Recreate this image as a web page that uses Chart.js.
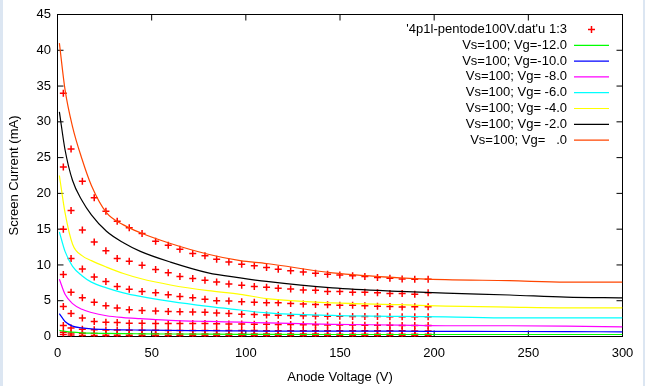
<!DOCTYPE html>
<html>
<head>
<meta charset="utf-8">
<title>Screen current vs anode voltage</title>
<script src="https://cdn.jsdelivr.net/npm/chart.js@4.4.1/dist/chart.umd.min.js"></script>
<style>
  html, body { margin: 0; padding: 0; background: #dce6f2; overflow: hidden; }
  #wrap { position: absolute; left: 3px; top: 0; width: 640px; height: 386px; background: #fff; }
</style>
</head>
<body>
<div id="wrap"><canvas id="chart" width="640" height="386"></canvas></div>
<script>
// Measured points ('4p1l-pentode100V.dat' u 1:3): anode voltage columns
const measVa = [3.1, 7.2, 13.2, 19.5, 25.7, 31.7, 38.1, 44.9, 52.1, 58.8, 65.0, 71.8, 78.3, 84.5, 91.0,
  97.8, 104.5, 111.0, 117.2, 123.8, 130.5, 137.0, 143.4, 149.9, 156.7, 163.2, 169.9, 176.5, 183.0, 189.7, 196.8];

// screen current (mA) per grid voltage, one value per column above
const measVg0 = [34.0, 26.2, 21.7, 19.4, 17.5, 16.1, 15.2, 14.4, 13.3, 12.75, 12.2, 11.6, 11.3, 10.8, 10.4,
  10.1, 9.9, 9.65, 9.4, 9.2, 9.0, 8.85, 8.7, 8.6, 8.5, 8.4, 8.25, 8.15, 8.05, 8.0, 8.0];
const measVg2 = [23.7, 17.6, 14.9, 13.2, 12.0, 10.9, 10.5, 9.95, 9.35, 8.9, 8.4, 8.1, 7.85, 7.6, 7.35,
  7.16, 7.0, 6.9, 6.75, 6.65, 6.5, 6.45, 6.3, 6.3, 6.2, 6.2, 6.1, 6.0, 6.0, 5.9, 6.1];
const measVg4 = [15.0, 10.9, 9.45, 8.3, 7.7, 7.0, 6.6, 6.3, 6.1, 5.85, 5.6, 5.4, 5.2, 5.0, 4.95,
  4.85, 4.8, 4.7, 4.7, 4.6, 4.55, 4.47, 4.45, 4.37, 4.35, 4.3, 4.23, 4.2, 4.14, 4.15, 4.15];
const measVg6 = [8.65, 6.2, 5.4, 4.8, 4.3, 4.0, 3.75, 3.65, 3.55, 3.5, 3.45, 3.42, 3.4, 3.3, 3.2,
  3.1, 3.07, 3.0, 2.98, 2.95, 2.9, 2.87, 2.84, 2.82, 2.8, 2.8, 2.78, 2.77, 2.76, 2.75, 2.75];
const measVg8 = [4.2, 3.2, 2.6, 2.1, 2.0, 1.95, 1.85, 1.85, 1.8, 1.8, 1.8, 1.8, 1.8, 1.78, 1.76,
  1.74, 1.72, 1.7, 1.68, 1.66, 1.65, 1.63, 1.62, 1.6, 1.6, 1.58, 1.57, 1.56, 1.55, 1.55, 1.55];
const measVg10 = [1.55, 1.2, 1.0, 0.95, 0.9, 0.9, 0.88, 0.87, 0.86, 0.85, 0.85, 0.85, 0.85, 0.84, 0.84,
  0.83, 0.83, 0.82, 0.82, 0.82, 0.81, 0.81, 0.8, 0.8, 0.8, 0.8, 0.79, 0.79, 0.79, 0.78, 0.78];
const measVg12 = [0.6, 0.5, 0.45, 0.42, 0.4, 0.4, 0.38, 0.38, 0.37, 0.37, 0.36, 0.36, 0.36, 0.35, 0.35,
  0.35, 0.35, 0.34, 0.34, 0.34, 0.34, 0.34, 0.33, 0.33, 0.33, 0.33, 0.33, 0.32, 0.32, 0.32, 0.32];
const measLow = [0.28, 0.2, 0.15, 0.12, 0.1, 0.1, 0.1, 0.1, 0.1, 0.1, 0.1, 0.1, 0.1, 0.1, 0.1,
  0.1, 0.1, 0.1, 0.1, 0.1, 0.1, 0.1, 0.1, 0.1, 0.1, 0.1, 0.1, 0.1, 0.1, 0.1, 0.1];

// Model curves, read at these anode voltages
const curveVa = [1, 4, 8, 13, 18, 26, 35, 44, 60, 80, 97, 111, 146, 182, 206, 240, 270, 300];
const curveVg12 = [0.85, 0.72, 0.6, 0.52, 0.47, 0.43, 0.4, 0.38, 0.35, 0.32, 0.3, 0.29, 0.28, 0.28, 0.28, 0.28, 0.28, 0.28];
const curveVg10 = [3.2, 2.1, 1.45, 1.2, 1.07, 0.98, 0.93, 0.9, 0.85, 0.82, 0.78, 0.76, 0.75, 0.74, 0.72, 0.7, 0.68, 0.65];
const curveVg8 = [8.0, 5.9, 4.6, 3.8, 3.35, 2.9, 2.65, 2.5, 2.25, 2.1, 2.0, 1.9, 1.7, 1.6, 1.5, 1.5, 1.45, 1.35];
const curveVg6 = [14.6, 11.9, 9.8, 8.5, 7.6, 6.8, 6.1, 5.6, 4.9, 4.2, 3.7, 3.3, 2.95, 2.8, 2.75, 2.6, 2.6, 2.6];
const curveVg4 = [22.5, 17.3, 12.9, 11.3, 10.6, 9.7, 8.8, 8.1, 7.2, 6.4, 5.9, 5.3, 4.7, 4.45, 4.25, 4.1, 4.0, 4.0];
const curveVg2 = [31.4, 26.1, 21.8, 19.0, 17.0, 14.7, 13.1, 11.9, 10.4, 8.9, 8.2, 7.7, 6.8, 6.3, 6.05, 5.8, 5.5, 5.4];
const curveVg0 = [41.0, 34.5, 29.3, 24.8, 21.1, 17.3, 15.6, 14.5, 13.0, 11.5, 10.6, 10.2, 8.9, 8.2, 7.95, 7.8, 7.6, 7.6];

const curveLabels = ['Vs=100; Vg=-12.0', 'Vs=100; Vg=-10.0', 'Vs=100; Vg= -8.0', 'Vs=100; Vg= -6.0',
  'Vs=100; Vg= -4.0', 'Vs=100; Vg= -2.0', 'Vs=100; Vg=   .0'];
const curveColors = ['#00ff00', '#0000ff', '#ff00ff', '#00ffff', '#ffff00', '#000000', '#ff4500'];

const xTicks = [0, 50, 100, 150, 200, 250, 300];
const yTicks = [0, 5, 10, 15, 20, 25, 30, 35, 40, 45];

const FONT = { family: '"Liberation Sans", Arial, sans-serif', size: 13 };
const TICK = 6;

// build the datasets
const measRows = [measVg0, measVg2, measVg4, measVg6, measVg8, measVg10, measVg12, measLow];
const measPoints = [];
measRows.forEach(row => row.forEach((v, i) => measPoints.push({ x: measVa[i], y: v })));

const curves = [curveVg12, curveVg10, curveVg8, curveVg6, curveVg4, curveVg2, curveVg0];

const datasets = [{
  label: "'4p1l-pentode100V.dat'u 1:3",
  data: measPoints,
  showLine: false,
  pointStyle: 'cross',
  pointRadius: 3.5,
  pointBorderWidth: 1.5,
  borderColor: '#ff0000',
  backgroundColor: '#ff0000',
  order: 1
}];
curves.forEach((c, i) => {
  datasets.push({
    label: curveLabels[i],
    data: c.map((v, k) => ({ x: curveVa[k], y: v })),
    showLine: true,
    pointRadius: 0,
    borderWidth: 1.2,
    borderColor: curveColors[i],
    backgroundColor: curveColors[i],
    cubicInterpolationMode: 'monotone',
    order: -i - 1
  });
});

// gnuplot style frame with inward ticks on all four sides
const framePlugin = {
  id: 'frame',
  beforeDatasetsDraw(chart) {
    const { ctx, chartArea: a, scales: { x, y } } = chart;
    ctx.save();
    ctx.strokeStyle = '#000';
    ctx.lineWidth = 1;
    ctx.beginPath();
    xTicks.forEach(v => {
      const px = x.getPixelForValue(v);
      ctx.moveTo(px, a.bottom); ctx.lineTo(px, a.bottom - TICK);
      ctx.moveTo(px, a.top); ctx.lineTo(px, a.top + TICK);
    });
    yTicks.forEach(v => {
      const py = y.getPixelForValue(v);
      ctx.moveTo(a.left, py); ctx.lineTo(a.left + TICK, py);
      ctx.moveTo(a.right, py); ctx.lineTo(a.right - TICK, py);
    });
    ctx.stroke();
    ctx.strokeRect(a.left, a.top, a.right - a.left, a.bottom - a.top);
    ctx.restore();
  }
};

// key in the top right corner: text right aligned, sample to its right
const keyPlugin = {
  id: 'key',
  afterDraw(chart) {
    const ctx = chart.ctx;
    const textRight = 564, lineX1 = 571, lineX2 = 606, top = 29.5, step = 15.8;
    ctx.save();
    ctx.font = FONT.size + 'px ' + FONT.family;
    ctx.textAlign = 'right';
    ctx.textBaseline = 'middle';
    chart.data.datasets.forEach((ds, i) => {
      const yy = top + i * step;
      ctx.fillStyle = '#000';
      ctx.fillText(ds.label, textRight, yy);
      ctx.strokeStyle = ds.borderColor;
      ctx.beginPath();
      if (ds.showLine === false) {
        const cx = (lineX1 + lineX2) / 2;
        ctx.lineWidth = 1.5;
        ctx.moveTo(cx - 3.5, yy); ctx.lineTo(cx + 3.5, yy);
        ctx.moveTo(cx, yy - 3.5); ctx.lineTo(cx, yy + 3.5);
      } else {
        ctx.lineWidth = 1.2;
        ctx.moveTo(lineX1, yy); ctx.lineTo(lineX2, yy);
      }
      ctx.stroke();
    });
    ctx.restore();
  }
};

new Chart(document.getElementById('chart'), {
  type: 'scatter',
  data: { datasets },
  options: {
    responsive: false,
    animation: false,
    devicePixelRatio: 1,
    events: [],
    layout: { padding: { top: 14.5, right: 20.5, bottom: 0, left: 0 } },
    plugins: { legend: { display: false }, tooltip: { enabled: false } },
    scales: {
      x: {
        type: 'linear', min: 0, max: 300,
        afterFit: s => { s.height = 49.5; },
        afterBuildTicks: s => { s.ticks = xTicks.map(v => ({ value: v })); },
        grid: { display: false, drawTicks: false },
        border: { display: false },
        ticks: { color: '#000', font: FONT, padding: 9, maxRotation: 0 },
        title: { display: true, text: 'Anode Voltage (V)', color: '#000', font: FONT, padding: { top: 0, bottom: 1 } }
      },
      y: {
        type: 'linear', min: 0, max: 45,
        afterFit: s => { s.width = 54.5; },
        afterBuildTicks: s => { s.ticks = yTicks.map(v => ({ value: v })); },
        grid: { display: false, drawTicks: false },
        border: { display: false },
        ticks: { color: '#000', font: FONT, padding: 6.5 },
        title: { display: true, text: 'Screen Current (mA)', color: '#000', font: FONT, padding: { top: 3.5, bottom: 0 } }
      }
    }
  },
  plugins: [framePlugin, keyPlugin]
});
</script>
</body>
</html>
